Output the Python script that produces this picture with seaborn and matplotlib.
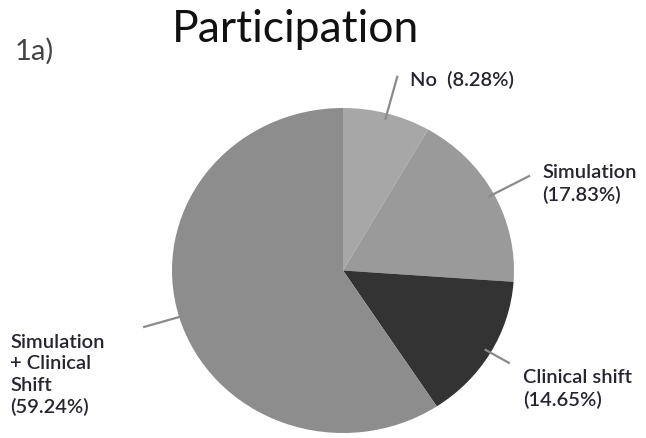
import numpy as np
import matplotlib
matplotlib.use("Agg")
import matplotlib.pyplot as plt
import seaborn as sns

# datos del grafico
categorias = ["No", "Simulation", "Clinical shift", "Simulation\n+ Clinical\nShift"]
porcentajes = [8.28, 17.83, 14.65, 59.24]
colores = ["#a7a7a7", "#9a9a9a", "#333333", "#8d8d8d"]

sns.set_theme(style="white")
plt.rcParams['font.family'] = ['Lato', 'DejaVu Sans']

W, H = 646, 438
fig = plt.figure(figsize=(W / 100, H / 100), dpi=100)

# ejes del pie (en pixeles: x 172..514, y 108..433)
ax = fig.add_axes([172 / W, 5 / H, 342 / W, 325 / H])
wedges, _ = ax.pie(porcentajes, colors=colores, startangle=90, counterclock=False,
                   radius=1, wedgeprops=dict(linewidth=0))
ax.set_aspect('auto')
ax.set_xlim(-1, 1)
ax.set_ylim(-1, 1)
for w in wedges:
    w.set_clip_on(False)

# lineas guia
extra = [0.24, 0.24, 0.13, 0.22]
for w, e in zip(wedges, extra):
    ang = np.deg2rad((w.theta1 + w.theta2) / 2)
    ax.plot([0.96 * np.cos(ang), (1 + e) * np.cos(ang)],
            [0.96 * np.sin(ang), (1 + e) * np.sin(ang)],
            color="#8a8a8a", lw=1.6, clip_on=False, solid_capstyle="butt")

# etiquetas (posicion en pixeles desde arriba)
pos = [(410, 80), (542, 184), (523, 389), (10, 375)]
for cat, p, (px, py) in zip(categorias, porcentajes, pos):
    if cat == "No":
        txt = f"{cat}  ({p:.2f}%)"
    else:
        txt = f"{cat}\n({p:.2f}%)"
    fig.text(px / W, 1 - py / H, txt, ha="left", va="center", fontsize=14.5,
             fontweight="semibold", color="#252530", linespacing=1.32)

fig.text(295 / W, 1 - 42 / H, "Participation", ha="center", va="baseline",
         fontsize=32, color="#111111")
fig.text(15 / W, 1 - 60 / H, "1a)", ha="left", va="baseline", fontsize=21,
         color="#444444")

fig.savefig("out.png", dpi=100)
